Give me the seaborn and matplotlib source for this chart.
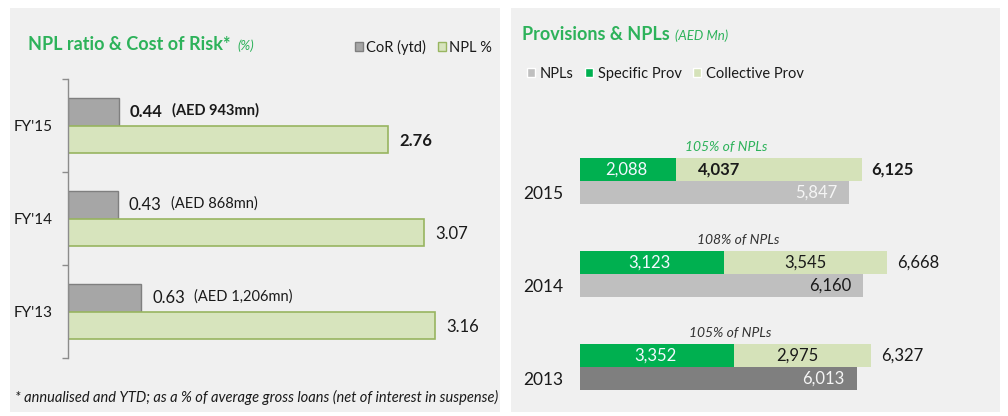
import pandas as pd
import matplotlib
matplotlib.use("Agg")
import matplotlib.pyplot as plt
import seaborn as sns
from matplotlib.patches import Rectangle, Patch

# left chart data
fy_labels = ["FY'15", "FY'14", "FY'13"]
cor = [0.44, 0.43, 0.63]
npl_ratio = [2.76, 3.07, 3.16]
cor_aed = ["(AED 943mn)", "(AED 868mn)", "(AED 1,206mn)"]

# right chart data
years = ["2015", "2014", "2013"]
npls = [5847, 6160, 6013]
specific = [2088, 3123, 3352]
collective = [4037, 3545, 2975]
totals = [6125, 6668, 6327]
coverage = ["105% of NPLs", "108% of NPLs", "105% of NPLs"]

GREEN_TITLE = "#2db25a"
COR_GRAY = "#a6a6a6"
NPL_LIGHT = "#d7e4bd"
SPEC_GREEN = "#00b050"
COLL_GREEN = "#d5e2b9"
NPL_GRAY = "#bfbfbf"
NPL_DARK = "#7f7f7f"
TXT = "#1a1a1a"

sns.set_theme(style="white")
plt.rcParams["font.family"] = ["Lato", "DejaVu Sans"]

W, H = 1008, 416
fig = plt.figure(figsize=(W / 100, H / 100), dpi=100)
fig.patch.set_facecolor("white")


def fx(px):
    return px / W


def fy(px):
    return 1 - px / H


# panel backgrounds
for x0, x1 in [(10, 500), (511, 1000)]:
    fig.patches.append(Rectangle((fx(x0), fy(412)), fx(x1 - x0), (412 - 8) / H,
                                 transform=fig.transFigure, facecolor="#f0f0f0",
                                 edgecolor="none", zorder=-1))

# ---------------- left chart ----------------
ax1 = fig.add_axes([fx(68), fy(358), 418 / W, 279 / H])
ax1.set_facecolor("none")
left = pd.DataFrame({"year": fy_labels * 2,
                     "series": ["CoR (ytd)"] * 3 + ["NPL %"] * 3,
                     "value": cor + npl_ratio})
sns.barplot(data=left, y="year", x="value", hue="series", orient="h",
            palette=[COR_GRAY, NPL_LIGHT], saturation=1, width=0.6,
            legend=False, ax=ax1, errorbar=None)
bars1 = list(ax1.patches)
for p in bars1[:3]:
    p.set_edgecolor("#7f7f7f")
    p.set_linewidth(1)
for p in bars1[3:]:
    p.set_edgecolor("#98b560")
    p.set_linewidth(1.2)

ax1.set_xlim(0, 3.6)
ax1.set_ylim(2.5, -0.5)
ax1.set_xlabel("")
ax1.set_ylabel("")
ax1.set_xticks([])
for s in ["top", "right", "bottom"]:
    ax1.spines[s].set_visible(False)
ax1.spines["left"].set_color("#8c8c8c")
ax1.spines["left"].set_linewidth(1)
ax1.set_yticks([-0.5, 0.5, 1.5, 2.5], minor=True)
ax1.tick_params(axis="y", which="minor", length=4, color="#8c8c8c", width=1, left=True)
ax1.tick_params(axis="y", which="major", length=0, pad=11, labelsize=11, labelcolor=TXT)

for i, p in enumerate(bars1[:3]):
    yc = p.get_y() + p.get_height() / 2
    w = "bold" if i == 0 else "normal"
    num = ax1.annotate(f"{cor[i]:.2f}", (p.get_width(), yc), xytext=(11, 0),
                       textcoords="offset pixels", va="center", ha="left",
                       fontsize=12, fontweight=w, color=TXT)
    ax1.annotate(cor_aed[i], (1, 0.55), xycoords=num, xytext=(9, 0),
                 textcoords="offset pixels", va="center", ha="left",
                 fontsize=10.5, fontweight=w, color=TXT)
for i, p in enumerate(bars1[3:]):
    yc = p.get_y() + p.get_height() / 2
    w = "bold" if i == 0 else "normal"
    ax1.annotate(f"{npl_ratio[i]:.2f}", (p.get_width(), yc), xytext=(11, -2),
                 textcoords="offset pixels", va="center", ha="left",
                 fontsize=12, fontweight=w, color=TXT)

t1 = fig.text(fx(28), fy(45), "NPL ratio & Cost of Risk*", color=GREEN_TITLE,
              fontsize=13, fontweight="bold", va="center", ha="left")
ax1.annotate("(%)", (1, 0.45), xycoords=t1, xytext=(7, 0),
             textcoords="offset pixels", color=GREEN_TITLE,
             fontsize=9.5, fontstyle="italic", va="center", ha="left")
fig.legend(handles=[Patch(facecolor=COR_GRAY, edgecolor="#7f7f7f", label="CoR (ytd)"),
                    Patch(facecolor=NPL_LIGHT, edgecolor="#98b560", label="NPL %")],
           loc="center right", bbox_to_anchor=(fx(499), fy(47)), ncol=2,
           frameon=False, fontsize=10.5, handlelength=0.55, handleheight=0.6,
           handletextpad=0.2, columnspacing=0.8, borderpad=0, labelcolor=TXT)
fig.text(fx(15), fy(397),
         "* annualised and YTD; as a % of average gross loans (net of interest in suspense)",
         fontsize=10.5, fontstyle="italic", color=TXT, va="center", ha="left")

# ---------------- right chart ----------------
ax2 = fig.add_axes([fx(580), fy(413.5), 414 / W, 279 / H])
ax2.set_facecolor("none")
prov = pd.DataFrame({"year": years * 2,
                     "series": ["Provisions"] * 3 + ["NPLs"] * 3,
                     "value": totals + npls})
sns.barplot(data=prov, y="year", x="value", hue="series", orient="h",
            palette=[COLL_GREEN, NPL_GRAY], saturation=1, width=0.5,
            legend=False, ax=ax2, errorbar=None)
spec = pd.DataFrame({"year": years * 2,
                     "series": ["Provisions"] * 3 + ["NPLs"] * 3,
                     "value": specific + [0, 0, 0]})
sns.barplot(data=spec, y="year", x="value", hue="series", orient="h",
            palette=[SPEC_GREEN, NPL_GRAY], saturation=1, width=0.5,
            legend=False, ax=ax2, errorbar=None)
bars2 = list(ax2.patches)
tot_bars, npl_bars, spec_bars = bars2[0:3], bars2[3:6], bars2[6:9]
npl_bars[2].set_facecolor(NPL_DARK)
for p in bars2:
    p.set_edgecolor("none")

ax2.set_xlim(0, 9000)
ax2.set_ylim(2.5, -0.5)
ax2.set_xlabel("")
ax2.set_ylabel("")
ax2.set_xticks([])
for s in ax2.spines.values():
    s.set_visible(False)
ax2.set_yticks([0.125, 1.125, 2.125])
ax2.set_yticklabels(years)
ax2.tick_params(axis="y", length=0, pad=12, labelsize=12.5, labelcolor=TXT)

coll_shift = [-50, 0, -5]
cov_color = [GREEN_TITLE, "#333333", "#333333"]
for i in range(3):
    pt, pn, ps = tot_bars[i], npl_bars[i], spec_bars[i]
    yt = pt.get_y() + pt.get_height() / 2
    yn = pn.get_y() + pn.get_height() / 2
    w = "bold" if i == 0 else "normal"
    ax2.annotate(f"{specific[i]:,}", (ps.get_width() / 2, yt), xytext=(-2, 0),
                 textcoords="offset pixels", ha="center", va="center",
                 fontsize=12, color="#f2f8ff")
    ax2.annotate(f"{collective[i]:,}", ((ps.get_width() + pt.get_width()) / 2, yt),
                 xytext=(coll_shift[i], 0), textcoords="offset pixels",
                 ha="center", va="center", fontsize=12, fontweight=w, color=TXT)
    ax2.annotate(f"{totals[i]:,}", (pt.get_width(), yt), xytext=(10, 0),
                 textcoords="offset pixels", ha="left", va="center",
                 fontsize=12, fontweight=w, color=TXT)
    ax2.annotate(f"{npls[i]:,}", (pn.get_width(), yn), xytext=(-12, 0),
                 textcoords="offset pixels", ha="right", va="center",
                 fontsize=12, color=TXT if i == 1 else "#f5f5f5")
    ax2.annotate(coverage[i], (pt.get_width() / 2, pt.get_y()), xytext=(5, 11),
                 textcoords="offset pixels", ha="center", va="center",
                 fontsize=10, fontstyle="italic", color=cov_color[i])

t2 = fig.text(fx(522), fy(35), "Provisions & NPLs", color=GREEN_TITLE,
              fontsize=13, fontweight="bold", va="center", ha="left")
ax2.annotate("(AED Mn)", (1, 0.45), xycoords=t2, xytext=(5, 0),
             textcoords="offset pixels", color=GREEN_TITLE, fontsize=9.5,
             fontstyle="italic", va="center", ha="left")
fig.legend(handles=[Patch(facecolor=NPL_GRAY, label="NPLs"),
                    Patch(facecolor=SPEC_GREEN, label="Specific Prov"),
                    Patch(facecolor=COLL_GREEN, label="Collective Prov")],
           loc="center left", bbox_to_anchor=(fx(520), fy(74)), ncol=3,
           frameon=False, fontsize=10.5, handlelength=0.55, handleheight=0.6,
           handletextpad=0.3, columnspacing=0.8, borderpad=0, labelcolor=TXT)

fig.savefig("out.png", dpi=100)
